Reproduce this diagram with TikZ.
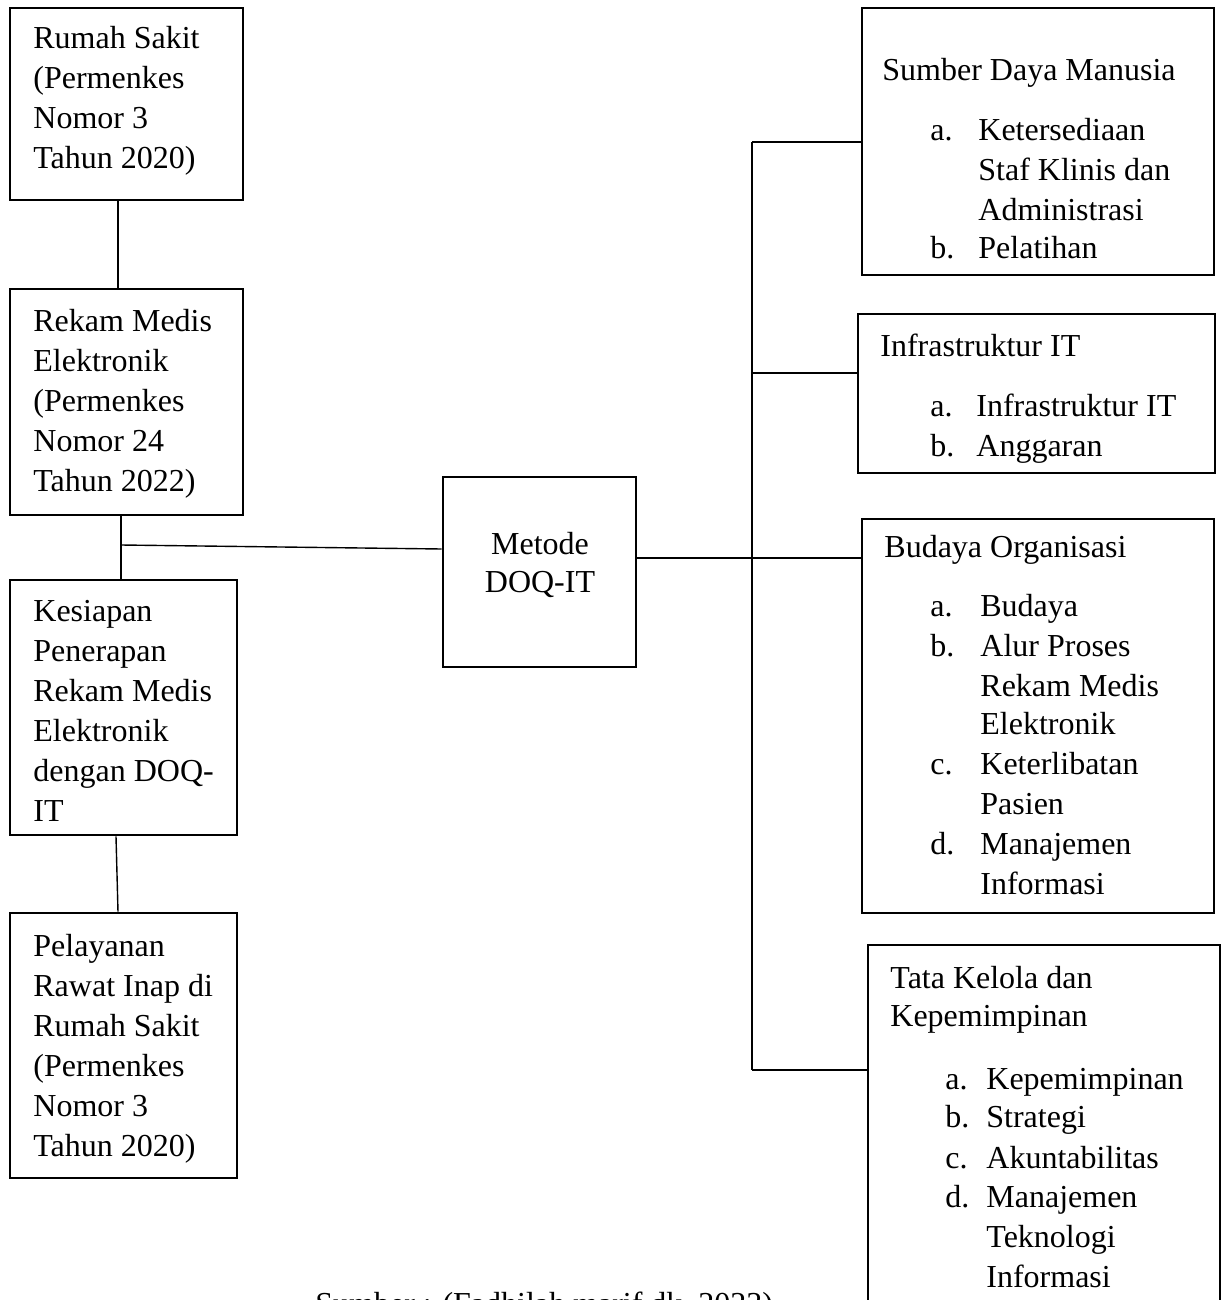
\documentclass[tikz,border=0pt]{standalone}
\usepackage{fontspec}
\setmainfont{Liberation Serif}
\usetikzlibrary{fit}
\begin{document}
\begin{tikzpicture}[x=0.5pt,y=-0.5pt,
  box/.style={draw,line width=1.3pt,inner sep=0pt},
  conn/.style={line width=0.7pt},
  txt/.style={anchor=base west,inner sep=0pt,font=\fontsize{16}{20}\selectfont},
  ctxt/.style={anchor=base,inner sep=0pt,font=\fontsize{16}{20}\selectfont}]
\useasboundingbox (0,0) rectangle (1227,1300);
\clip (0,0) rectangle (1227,1300);
% left column boxes
\node[box,fit={(10,8) (243,200)}] (rs) {};
\node[box,fit={(10,289) (243,515)}] (rm) {};
\node[box,fit={(10,580) (237,835)}] (ks) {};
\node[box,fit={(10,913) (237,1178)}] (pl) {};
\node[box,fit={(443,477) (636,667)}] (met) {};
% right column boxes
\node[box,fit={(862,8) (1214,275)}] (sdm) {};
\node[box,fit={(858,314) (1215,473)}] (inf) {};
\node[box,fit={(862,519) (1214,913)}] (bud) {};
\node[box,fit={(868,945) (1220,1330)}] (tk) {};
% texts left
\node[txt] (trs) at (33,49) {\begin{tabular}[t]{@{}l@{}}Rumah Sakit\\(Permenkes\\Nomor 3\\Tahun 2020)\end{tabular}};
\node[txt] (trm) at (33,331) {\begin{tabular}[t]{@{}l@{}}Rekam Medis\\Elektronik\\(Permenkes\\Nomor 24\\Tahun 2022)\end{tabular}};
\node[txt] (tks) at (33,621) {\begin{tabular}[t]{@{}l@{}}Kesiapan\\Penerapan\\Rekam Medis\\Elektronik\\dengan DOQ-\\IT\end{tabular}};
\node[txt] (tpl) at (33,956) {\begin{tabular}[t]{@{}l@{}}Pelayanan\\Rawat Inap di\\Rumah Sakit\\(Permenkes\\Nomor 3\\Tahun 2020)\end{tabular}};
\node[ctxt] (tmet) at (540,554) {\begin{tabular}[t]{@{}c@{}}Metode\\[-1pt]DOQ-IT\end{tabular}};
% texts right
\node[txt] (tsdm) at (882,81) {\begin{tabular}[t]{@{}p{24pt}@{}p{24pt}@{}l@{}}\multicolumn{3}{@{}l@{}}{Sumber Daya Manusia}\\[10pt]
 & a. & Ketersediaan\\ & & Staf Klinis dan\\ & & Administrasi\\[-1pt] & b. & Pelatihan\end{tabular}};
\node[txt] (tinf) at (880,356) {\begin{tabular}[t]{@{}p{25pt}@{}p{23pt}@{}l@{}}\multicolumn{3}{@{}l@{}}{Infrastruktur IT}\\[10pt]
 & a. & Infrastruktur IT\\ & b. & Anggaran\end{tabular}};
\node[txt] (tbud) at (884,557) {\begin{tabular}[t]{@{}p{23pt}@{}p{25pt}@{}l@{}}\multicolumn{3}{@{}l@{}}{Budaya Organisasi}\\[9.5pt]
 & a. & Budaya\\ & b. & Alur Proses\\ & & Rekam Medis\\[-1pt] & & Elektronik\\ & c. & Keterlibatan\\ & & Pasien\\ & d. & Manajemen\\ & & Informasi\end{tabular}};
\node[txt] (ttk) at (890,988) {\begin{tabular}[t]{@{}p{27.5pt}@{}p{20.5pt}@{}l@{}}\multicolumn{3}{@{}l@{}}{Tata Kelola dan}\\[-1pt]\multicolumn{3}{@{}l@{}}{Kepemimpinan}\\[11.5pt]
 & a. & Kepemimpinan\\[-1pt] & b. & Strategi\\[0.5pt] & c. & Akuntabilitas\\[-0.5pt] & d. & Manajemen\\ & & Teknologi\\ & & Informasi\end{tabular}};
% caption (cut off at the bottom edge, as in the reference)
\node[txt] (cap) at (315,1314) {Sumber : (Fadhilah marif dk, 2023)};
% helper coordinates
\coordinate (x118) at (118,0);
\coordinate (x121) at (121,0);
\coordinate (x116) at (116,0);
\coordinate (lj) at (121,545);
\coordinate (mjy) at (0,549);
\coordinate (hub) at (752,558);
\coordinate (ttop) at (752,142);
\coordinate (yinf) at (752,373);
\coordinate (tbot) at (752,1070);
% connectors left
\draw[conn] (rs.south -| x118) -- (rm.north -| x118);
\draw[conn] (rm.south -| x121) -- (ks.north -| x121);
\draw[conn] (lj) -- (met.west |- mjy);
\draw[conn] (ks.south -| x116) -- (pl.north -| x118);
% connectors right
\draw[conn] (met.east |- hub) -- (hub);
\draw[conn] (ttop) -- (tbot);
\draw[conn] (ttop) -- (sdm.west |- ttop);
\draw[conn] (yinf) -- (inf.west |- yinf);
\draw[conn] (hub) -- (bud.west |- hub);
\draw[conn] (tbot) -- (tk.west |- tbot);
\end{tikzpicture}
\end{document}
